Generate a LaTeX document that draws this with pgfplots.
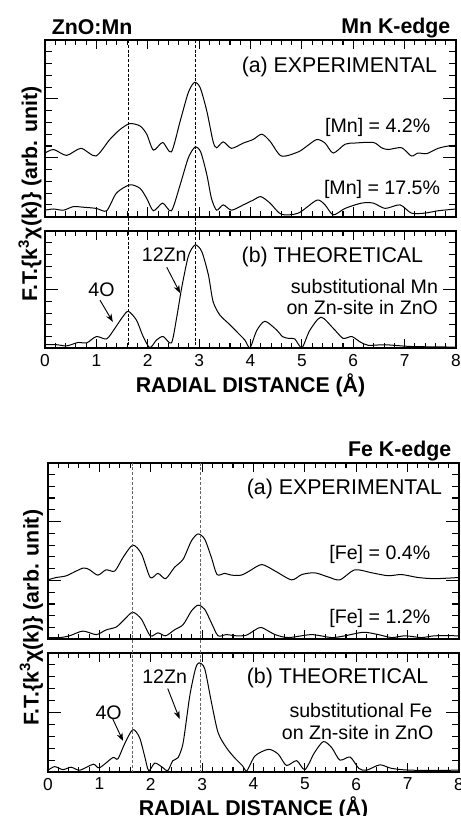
\documentclass[border=0pt]{standalone}
\usepackage{fontspec}
\setmainfont{Liberation Sans}
\usepackage{pgfplots}
\pgfplotsset{compat=1.18}
\usetikzlibrary{arrows.meta}

\newcommand\hd{\fontsize{16}{16}\selectfont}
\newcommand\sm{\fontsize{14.7}{14.7}\selectfont}
\newcommand\lb{\fontsize{16}{16}\selectfont\bfseries}

\pgfplotsset{
  exafs/.style={
    scale only axis, width=308.3pt,
    xmin=0, xmax=8, ymin=0,
    xtick={0,1,...,8}, minor x tick num=4,
    ytick={0,1,2,3}, minor y tick num=4,
    yticklabels={},
    tick align=inside, tick pos=both,
    axis line style={line width=1.3pt},
    xtick style={black, line width=0.8pt, /pgfplots/major tick length=7pt, /pgfplots/minor tick length=4pt},
    ytick style={black, line width=0.8pt, /pgfplots/major tick length=10pt, /pgfplots/minor tick length=5pt},
    clip=false,
    tick label style={font=\fontsize{13}{13}\selectfont},
    xticklabel style={yshift=-1pt},
    /pgf/number format/assume math mode=true,
    xlabel style={font=\lb, at={(axis description cs:0.5,0)}, anchor=center, yshift=-27.5pt},
  },
  curve/.style={black, line width=0.75pt, smooth, tension=0.45, mark=none},
}

\begin{document}
\begin{tikzpicture}
\useasboundingbox (0,0) rectangle (345pt,612pt);

% ---------- Mn K-edge, experimental ----------
\begin{axis}[exafs, at={(33.75pt,449.5pt)}, height=132.5pt, ymax=3, xticklabels={}]
\addplot[curve] coordinates {
(0.00,1.08) (0.17,1.14) (0.42,1.04) (0.70,1.16) (0.99,1.03) (1.26,1.31)
(1.46,1.48) (1.65,1.58) (1.85,1.54) (1.98,1.40) (2.11,1.13) (2.29,1.26)
(2.46,1.10) (2.63,1.62) (2.79,2.11) (2.91,2.28) (3.02,2.19) (3.15,1.79)
(3.27,1.28) (3.34,1.17) (3.47,1.27) (3.63,1.16) (3.86,1.25) (4.05,1.31)
(4.22,1.40) (4.38,1.28) (4.60,1.03) (4.93,1.10) (5.10,1.20) (5.29,1.31)
(5.45,1.25) (5.61,1.08) (5.84,1.23) (6.03,1.25) (6.39,1.26) (6.55,1.17)
(6.68,1.14) (6.94,1.17) (7.13,1.03) (7.26,1.08) (7.43,1.07) (7.65,1.16)
(7.85,1.20) (8.00,1.21)};
\addplot[curve] coordinates {
(0.00,0.11) (0.16,0.13) (0.36,0.11) (0.55,0.17) (0.75,0.16) (1.00,0.14)
(1.20,0.10) (1.39,0.40) (1.65,0.54) (1.85,0.48) (1.98,0.31) (2.11,0.10)
(2.29,0.23) (2.46,0.10) (2.63,0.54) (2.79,1.00) (2.92,1.18) (3.03,1.10)
(3.15,0.71) (3.24,0.31) (3.34,0.11) (3.47,0.20) (3.63,0.11) (3.86,0.20)
(4.05,0.28) (4.20,0.34) (4.38,0.23) (4.60,0.04) (4.93,0.06) (5.29,0.28)
(5.45,0.20) (5.61,0.03) (5.84,0.14) (6.16,0.23) (6.39,0.23) (6.62,0.14)
(6.91,0.20) (7.13,0.06) (7.39,0.06) (7.65,0.10) (8.00,0.13)};
\coordinate (ma1) at (axis cs:1.62,3);
\coordinate (ma2) at (axis cs:2.92,3);
\node[font=\lb, anchor=west] at (axis cs:0.04,3.21) {ZnO:Mn};
\node[font=\lb, anchor=east] at (axis cs:7.98,3.21) {Mn K-edge};
\node[font=\hd, anchor=east] at (axis cs:7.72,2.54) {(a) EXPERIMENTAL};
\node[font=\sm, anchor=east] at (axis cs:7.59,1.52) {[Mn] = 4.2\%};
\node[font=\sm, anchor=east] at (axis cs:7.78,0.46) {[Mn] = 17.5\%};
\end{axis}

% ---------- Mn K-edge, theoretical ----------
\begin{axis}[exafs, at={(33.75pt,350.8pt)}, height=88pt, ymax=2,
  xlabel={RADIAL DISTANCE (Å)}]
\addplot[curve] coordinates {
(0.00,0.06) (0.23,0.06) (0.42,0.04) (0.65,0.10) (0.81,0.09) (1.00,0.20)
(1.20,0.16) (1.36,0.34) (1.50,0.52) (1.62,0.63) (1.78,0.48) (1.91,0.20)
(2.04,0.01) (2.17,0.14) (2.30,0.20) (2.46,0.09) (2.56,0.51) (2.66,1.03)
(2.79,1.57) (2.92,1.76) (3.05,1.65) (3.18,1.25) (3.27,0.80) (3.40,0.57)
(3.60,0.40) (3.79,0.23) (3.89,0.14) (3.99,0.01) (4.12,0.30) (4.28,0.46)
(4.51,0.31) (4.62,0.20) (4.73,0.17) (4.86,0.16) (5.00,0.01) (5.15,0.30)
(5.37,0.53) (5.61,0.34) (5.80,0.17) (5.97,0.20) (6.13,0.11) (6.29,0.05)
(6.62,0.06) (7.13,0.03) (8.00,0.02)};
\coordinate (mb1) at (axis cs:1.62,0);
\coordinate (mb2) at (axis cs:2.92,0);
\node[font=\hd, anchor=east] at (axis cs:7.45,1.56) {(b) THEORETICAL};
\node[font=\sm, anchor=east] at (axis cs:7.74,1.05) {substitutional Mn};
\node[font=\sm, anchor=east] at (axis cs:7.74,0.69) {on Zn-site in ZnO};
\node[font=\sm] at (axis cs:2.32,1.59) {12Zn};
\node[font=\sm] at (axis cs:1.10,1.00) {4O};
\draw[-{Stealth[length=6pt,width=4.5pt]}, line width=0.7pt] (axis cs:2.37,1.38) -- (axis cs:2.63,0.94);
\draw[-{Stealth[length=6pt,width=4.5pt]}, line width=0.7pt] (axis cs:1.07,0.82) -- (axis cs:1.32,0.45);
\end{axis}
\draw[dashed, dash pattern=on 2.2pt off 1.4pt, line width=0.6pt] (ma1) -- (mb1);
\draw[dashed, dash pattern=on 2.2pt off 1.4pt, line width=0.6pt] (ma2) -- (mb2);
\node[font=\lb, rotate=90] at (22.5pt,466.5pt) {F.T.\{k\textsuperscript{3}χ(k)\} (arb. unit)};

% ---------- Fe K-edge, experimental ----------
\begin{axis}[exafs, at={(36pt,132.5pt)}, height=132.5pt, ymax=3, xticklabels={}]
\addplot[curve] coordinates {
(0.00,1.01) (0.16,1.05) (0.36,1.08) (0.68,1.21) (0.81,1.18) (0.97,1.09)
(1.13,1.18) (1.30,1.16) (1.46,1.39) (1.65,1.60) (1.82,1.45) (1.99,1.05)
(2.14,1.12) (2.29,1.03) (2.46,1.22) (2.63,1.36) (2.79,1.67) (2.92,1.79)
(3.05,1.70) (3.18,1.39) (3.29,1.10) (3.44,1.12) (3.57,1.09) (3.76,1.09)
(3.92,1.16) (4.16,1.27) (4.42,1.16) (4.74,1.01) (4.94,1.10) (5.19,1.13)
(5.45,1.06) (5.68,1.01) (5.97,1.18) (6.30,1.13) (6.62,1.08) (6.88,1.10)
(7.20,1.05) (7.53,1.03) (8.00,1.05)};
\addplot[curve] coordinates {
(0.00,0.03) (0.23,0.03) (0.42,0.06) (0.68,0.14) (0.94,0.08) (1.13,0.16)
(1.33,0.21) (1.49,0.34) (1.65,0.46) (1.82,0.34) (1.99,0.06) (2.14,0.11)
(2.29,0.06) (2.46,0.16) (2.63,0.25) (2.79,0.48) (2.92,0.58) (3.05,0.51)
(3.18,0.28) (3.31,0.06) (3.47,0.08) (3.66,0.06) (3.86,0.07) (4.05,0.17)
(4.16,0.20) (4.42,0.08) (4.68,0.03) (5.13,0.08) (5.52,0.03) (5.78,0.06)
(6.14,0.12) (6.43,0.08) (6.69,0.03) (6.95,0.06) (7.27,0.03) (7.53,0.06)
(8.00,0.06)};
\coordinate (fa1) at (axis cs:1.65,3);
\coordinate (fa2) at (axis cs:2.96,3);
\node[font=\lb, anchor=east] at (axis cs:7.94,3.20) {Fe K-edge};
\node[font=\hd, anchor=east] at (axis cs:7.76,2.56) {(a) EXPERIMENTAL};
\node[font=\sm, anchor=east] at (axis cs:7.53,1.45) {[Fe] = 0.4\%};
\node[font=\sm, anchor=east] at (axis cs:7.53,0.35) {[Fe] = 1.2\%};
\end{axis}

% ---------- Fe K-edge, theoretical ----------
\begin{axis}[exafs, at={(36pt,33pt)}, height=89.5pt, ymax=2,
  xlabel={RADIAL DISTANCE (Å)}]
\addplot[curve] coordinates {
(0.00,0.03) (0.13,0.09) (0.29,0.04) (0.45,0.08) (0.62,0.03) (0.88,0.13)
(1.00,0.07) (1.26,0.24) (1.36,0.22) (1.49,0.47) (1.65,0.71) (1.78,0.58)
(1.88,0.27) (1.96,0.02) (2.08,0.15) (2.24,0.07) (2.33,0.02) (2.43,0.19)
(2.53,0.24) (2.63,0.49) (2.76,1.28) (2.87,1.73) (2.94,1.83) (3.05,1.73)
(3.18,1.17) (3.31,0.66) (3.47,0.41) (3.63,0.24) (3.79,0.10) (3.87,0.02)
(4.03,0.27) (4.29,0.38) (4.48,0.30) (4.64,0.11) (4.84,0.19) (5.00,0.04)
(5.19,0.33) (5.36,0.51) (5.52,0.41) (5.68,0.20) (5.88,0.25) (6.05,0.06)
(6.20,0.03) (6.46,0.12) (6.69,0.06) (7.08,0.03) (8.00,0.03)};
\coordinate (fb1) at (axis cs:1.65,0);
\coordinate (fb2) at (axis cs:2.96,0);
\node[font=\hd, anchor=east] at (axis cs:7.49,1.57) {(b) THEORETICAL};
\node[font=\sm, anchor=east] at (axis cs:7.57,1.03) {substitutional Fe};
\node[font=\sm, anchor=east] at (axis cs:7.59,0.66) {on Zn-site in ZnO};
\node[font=\sm] at (axis cs:2.27,1.59) {12Zn};
\node[font=\sm] at (axis cs:1.18,0.99) {4O};
\draw[-{Stealth[length=6pt,width=4.5pt]}, line width=0.7pt] (axis cs:2.33,1.40) -- (axis cs:2.56,0.89);
\draw[-{Stealth[length=6pt,width=4.5pt]}, line width=0.7pt] (axis cs:1.26,0.89) -- (axis cs:1.46,0.52);
\end{axis}
\draw[dashed, dash pattern=on 2.2pt off 1.4pt, line width=0.6pt, gray!80!black] (fa1) -- (fb1);
\draw[dashed, dash pattern=on 2.2pt off 1.4pt, line width=0.6pt, gray!80!black] (fa2) -- (fb2);
\node[font=\lb, rotate=90] at (23.5pt,148.9pt) {F.T.\{k\textsuperscript{3}χ(k)\} (arb. unit)};
\end{tikzpicture}
\end{document}
